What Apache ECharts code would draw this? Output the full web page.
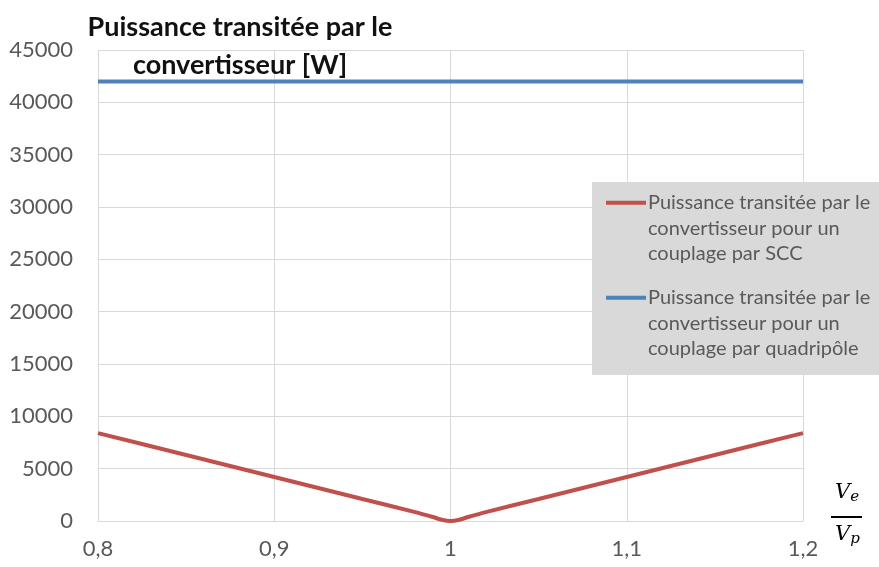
<!DOCTYPE html>
<html>
<head>
<meta charset="utf-8">
<script src="https://cdn.jsdelivr.net/npm/echarts@6/dist/echarts.min.js"></script>
<style>
  html, body { margin: 0; padding: 0; background: #fff; }
  #chart { width: 879px; height: 567px; }
</style>
</head>
<body>
<div id="chart"></div>
<script>
// Ratio Ve/Vp on the horizontal axis
const ratioValues = [0.8, 0.85, 0.9, 0.95, 0.98, 0.99, 0.995, 1.0, 1.005, 1.01, 1.02, 1.05, 1.1, 1.15, 1.2];
// Power through the converter, SCC coupling [W]
const powerScc = [8400, 6300, 4200, 2100, 850, 380, 120, 0, 120, 380, 850, 2100, 4200, 6300, 8400];
// Power through the converter, two-port (quadripôle) coupling [W]
const ratioQuad = [0.8, 1.2];
const powerQuad = [42000, 42000];

const seriesNames = [
  'Puissance transitée par le convertisseur pour un couplage par SCC',
  'Puissance transitée par le convertisseur pour un couplage par quadripôle'
];
const seriesColors = ['#c0504d', '#4f81bd'];
// legend text, one entry per line; the coloured swatch sits beside the first line
const legendText = {
  [seriesNames[0]]: ['Puissance transitée par le', 'convertisseur pour un', 'couplage par SCC'],
  [seriesNames[1]]: ['Puissance transitée par le', 'convertisseur pour un', 'couplage par quadripôle']
};

const font = 'Lato, "Open Sans", sans-serif';
const legendLineHeight = 25.5;

function legendLabel(name) {
  const sw = name === seriesNames[0] ? 'r' : 'b';
  return legendText[name]
    .map((line, i) => (i === 0 ? '{' + sw + '| }{g| }' : '{i| }') + '{t|' + line + '}')
    .join('\n');
}

const chart = echarts.init(document.getElementById('chart'), null, { renderer: 'canvas' });

chart.setOption({
  animation: false,
  backgroundColor: '#ffffff',
  title: {
    text: 'Puissance transitée par le\nconvertisseur [W]',
    left: 235,
    top: 3,
    textAlign: 'center',
    textStyle: { fontFamily: font, fontSize: 27, fontWeight: 'bold', color: '#111', lineHeight: 38 }
  },
  grid: { left: 98, right: 76, top: 50, bottom: 46 },
  xAxis: {
    type: 'value',
    min: 0.8,
    max: 1.2,
    interval: 0.1,
    axisLine: { show: true, lineStyle: { color: '#d9d9d9', width: 1 } },
    axisTick: { show: false },
    splitLine: { show: true, lineStyle: { color: '#d9d9d9', width: 1 } },
    axisLabel: {
      margin: 17,
      fontFamily: font, fontSize: 22, color: '#595959',
      formatter: v => v.toFixed(1).replace('.', ',').replace(/,0$/, '')
    }
  },
  yAxis: {
    type: 'value',
    min: 0,
    max: 45000,
    interval: 5000,
    axisLine: { show: false },
    axisTick: { show: false },
    splitLine: { show: true, lineStyle: { color: '#d9d9d9', width: 1 } },
    axisLabel: { margin: 25, fontFamily: font, fontSize: 22, color: '#595959', formatter: v => String(v) }
  },
  legend: {
    orient: 'vertical',
    left: 601,
    top: 190,
    padding: 0,
    itemGap: 18.5,
    itemWidth: 0,
    itemHeight: 0,
    icon: 'rect',
    itemStyle: { opacity: 0 },
    data: seriesNames,
    formatter: legendLabel,
    textStyle: {
      fontFamily: font, fontSize: 20, lineHeight: legendLineHeight, color: '#595959',
      rich: {
        r: { width: 40, height: 4, backgroundColor: seriesColors[0], verticalAlign: 'middle' },
        b: { width: 40, height: 4, backgroundColor: seriesColors[1], verticalAlign: 'middle' },
        g: { width: 2 },
        i: { width: 42 },
        t: { fontFamily: font, fontSize: 20, lineHeight: legendLineHeight, color: '#595959' }
      }
    }
  },
  graphic: [
    {
      // grey panel behind the legend
      type: 'rect',
      z: 1,
      shape: { x: 592, y: 182, width: 287, height: 193 },
      style: { fill: '#d9d9d9' }
    },
    {
      type: 'group',
      left: 831,
      top: 482,
      children: [
        { type: 'text', x: 4, y: 0, style: { text: '{v|V}{s|e}', rich: {
          v: { fontFamily: '"DejaVu Serif", serif', fontStyle: 'italic', fontSize: 21, fill: '#000' },
          s: { fontFamily: '"DejaVu Serif", serif', fontStyle: 'italic', fontSize: 15, fill: '#000', padding: [10, 0, 0, 0] }
        } } },
        { type: 'rect', shape: { x: 0, y: 36, width: 31, height: 2 }, style: { fill: '#000' } },
        { type: 'text', x: 4, y: 42, style: { text: '{v|V}{s|p}', rich: {
          v: { fontFamily: '"DejaVu Serif", serif', fontStyle: 'italic', fontSize: 21, fill: '#000' },
          s: { fontFamily: '"DejaVu Serif", serif', fontStyle: 'italic', fontSize: 15, fill: '#000', padding: [10, 0, 0, 0] }
        } } }
      ]
    }
  ],
  series: [
    {
      name: seriesNames[0],
      type: 'line',
      data: ratioValues.map((r, i) => [r, powerScc[i]]),
      showSymbol: false,
      smooth: 0.2,
      lineStyle: { color: seriesColors[0], width: 4 },
      itemStyle: { color: seriesColors[0] }
    },
    {
      name: seriesNames[1],
      type: 'line',
      data: ratioQuad.map((r, i) => [r, powerQuad[i]]),
      showSymbol: false,
      lineStyle: { color: seriesColors[1], width: 4 },
      itemStyle: { color: seriesColors[1] }
    }
  ]
});
</script>
</body>
</html>
